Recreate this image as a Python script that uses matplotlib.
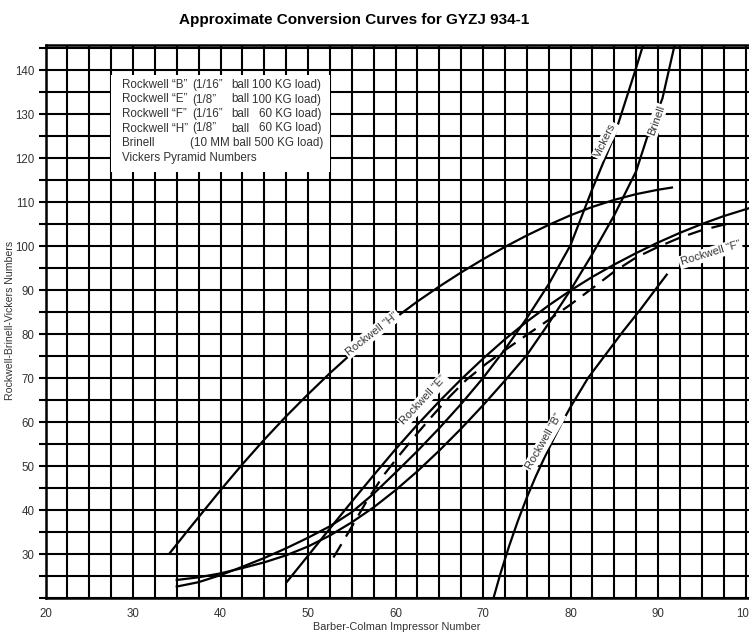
import matplotlib
matplotlib.use('Agg')
import matplotlib.pyplot as plt
from matplotlib.patches import Rectangle
from matplotlib.ticker import MultipleLocator, FixedLocator

plt.rcParams['font.family'] = ['Liberation Sans', 'DejaVu Sans']

# ---------------- data ----------------
title = "Approximate Conversion Curves for GYZJ 934-1"
x_label = "Barber-Colman Impressor Number"
y_label = "Rockwell-Brinell-Vickers Numbers"
x_ticks = [20, 30, 40, 50, 60, 70, 80, 90, 100]
y_ticks = [30, 40, 50, 60, 70, 80, 90, 100, 110, 120, 130, 140]

rh_x = [34.2, 36, 38, 40, 42.5, 45, 47.5, 50, 52.5, 55, 57.5, 60, 62.5, 65, 67.5,
        70, 72.5, 75, 77.5, 80, 82.5, 85, 87.5, 90, 91.6]
rh_y = [30.2, 34.7, 39.6, 44.5, 50.4, 56.0, 61.3, 66.3, 71.1, 75.6, 79.8, 83.7, 87.4,
        90.8, 94.0, 97.0, 99.8, 102.4, 104.8, 107.0, 108.9, 110.5, 111.8, 112.8, 113.3]

re_x = [47.6, 50, 52.5, 55, 57.5, 60, 62.5, 65, 67.5, 70, 72.5, 75, 77.5, 80, 82.5,
        85, 87.5, 90, 92.5, 95, 97.5, 100.4]
re_y = [23.7, 29.6, 35.8, 41.9, 47.9, 53.8, 59.4, 64.7, 69.7, 74.4, 78.8, 82.8, 86.5,
        89.9, 93.0, 95.8, 98.4, 100.8, 103.0, 105.0, 106.8, 108.6]

rf_x = [52.9, 54.8, 56.7, 58.6, 60.5, 62.4, 64.3, 66.2, 68.1, 70.4, 72.7, 75, 77.5,
        80, 82.5, 85, 87.5, 90, 92.5, 95, 98.2]
rf_y = [29.2, 35.5, 42.0, 47.8, 52.6, 57.2, 61.6, 65.8, 69.6, 73.3, 76.6, 79.8, 83.2,
        86.7, 90.4, 94.2, 97.4, 99.8, 101.9, 103.6, 105.2]

vk_x = [35, 37.5, 40, 42.5, 45, 47.5, 50, 52.5, 55, 57.5, 60, 62.5, 65, 67.5, 70,
        72.5, 75, 77.5, 80, 82.5, 85, 87.5, 88.3]
vk_y = [22.6, 23.6, 25.2, 27.1, 29.1, 31.3, 33.7, 36.3, 39.5, 43.7, 48.5, 53.4, 58.6,
        64.1, 70.0, 76.5, 83.6, 91.3, 100.2, 113.0, 125.0, 140.5, 145.7]

br_x = [35, 37.5, 40, 42.5, 45, 47.5, 50, 52.5, 55, 57.5, 60, 62.5, 65, 67.5, 70,
        72.5, 75, 77.5, 80, 82.5, 85, 87.5, 88.8, 90.5, 91.9]
br_y = [24.1, 24.7, 25.6, 26.8, 28.1, 29.7, 31.7, 34.2, 37.2, 40.6, 44.5, 48.8, 53.5,
        58.5, 63.8, 69.4, 75.2, 82.4, 90.0, 98.2, 107.0, 117.0, 125.0, 133.5, 145.7]

rb_x = [71.2, 72, 73, 74, 75, 76, 77, 78, 79, 80, 82, 84, 86, 88, 90, 91]
rb_y = [20.0, 25.6, 31.9, 37.6, 42.8, 47.5, 51.8, 55.9, 59.8, 63.4, 70.0, 75.3, 80.6,
        85.6, 90.9, 93.5]

legend_lines = [
    ("Rockwell \u201cB\u201d", "(1/16\u201d", "ball", "100 KG load)"),
    ("Rockwell \u201cE\u201d", "(1/8\u201d", "ball", "100 KG load)"),
    ("Rockwell \u201cF\u201d", "(1/16\u201d", "ball", "60 KG load)"),
    ("Rockwell \u201cH\u201d", "(1/8\u201d", "ball", "60 KG load)"),
]
legend_brinell = ("Brinell", "(10 MM ball 500 KG load)")
legend_vickers = "Vickers Pyramid Numbers"

# ---------------- figure ----------------
W, H = 749, 635
fig = plt.figure(figsize=(W / 100, H / 100), dpi=100)
ax = fig.add_axes([45.5 / W, (H - 598) / H, (W - 45.5) / W, (598 - 45) / H])
ax.set_xlim(20, 100.4)
ax.set_ylim(20, 145.7)

ax.xaxis.set_major_locator(FixedLocator(x_ticks))
ax.xaxis.set_minor_locator(MultipleLocator(2.5))
ax.yaxis.set_major_locator(FixedLocator(y_ticks))
ax.yaxis.set_minor_locator(MultipleLocator(5))
ax.grid(which='both', color='black', linewidth=1.5)
ax.set_axisbelow(True)

ax.tick_params(axis='x', which='both', length=0, pad=7, labelsize=8.3, labelcolor='#333333')
ax.tick_params(axis='y', which='both', length=5, width=1.5, direction='out', pad=3,
               labelsize=8.3, labelcolor='#333333')
for s in ['left', 'top', 'bottom']:
    ax.spines[s].set_linewidth(1.8)
ax.spines['right'].set_visible(False)

fig.text(397 / W, 1 - 627 / H, x_label, fontsize=7.8, color='#333333',
         ha='center', va='center')
fig.text(10 / W, 1 - 320 / H, y_label, rotation=90, fontsize=7.6, color='#333333',
         ha='center', va='center')
fig.text(354 / W, 1 - 20 / H, title, fontsize=11, fontweight='bold',
         ha='center', va='center')

lw = 1.6
ax.plot(rh_x, rh_y, color='black', lw=lw, zorder=2)
ax.plot(re_x, re_y, color='black', lw=lw, zorder=2)
ax.plot(rf_x, rf_y, color='black', lw=lw, zorder=2, linestyle=(0, (7, 4)))
ax.plot(vk_x, vk_y, color='black', lw=lw, zorder=2)
ax.plot(br_x, br_y, color='black', lw=lw, zorder=2)
ax.plot(rb_x, rb_y, color='black', lw=lw, zorder=2)

lab_kw = dict(fontsize=8.0, color='#333333', ha='center', va='center', zorder=4,
              rotation_mode='anchor',
              bbox=dict(boxstyle='square,pad=0.15', fc='white', ec='none'))
ax.text(57.3, 80.0, "Rockwell \u201cH\u201d", rotation=38, **lab_kw)
ax.text(63.2, 65.0, "Rockwell \u201cE\u201d", rotation=47, **lab_kw)
ax.text(84.0, 124.0, "Vickers", rotation=64, **lab_kw)
ax.text(89.8, 128.5, "Brinell", rotation=70, **lab_kw)
ax.text(96.0, 98.3, "Rockwell \u201cF\u201d", rotation=17, **lab_kw)
ax.text(77.0, 55.5, "Rockwell \u201cB\u201d", rotation=60, **lab_kw)

# legend box (white area over grid)
def fx(px):
    return px / W

def fy(py):
    return 1 - py / H

fig.patches.append(Rectangle((fx(111), fy(172)), (330 - 111) / W, (172 - 75) / H,
                             transform=fig.transFigure, fc='white', ec='none', zorder=3))
leg_kw = dict(fontsize=8.4, color='#333333', va='center', zorder=5)
rows_y = [85, 99.5, 114, 128.5, 143, 158]
for (name, size, ball, load), py in zip(legend_lines, rows_y):
    fig.text(fx(122), fy(py), name, ha='left', **leg_kw)
    fig.text(fx(192), fy(py), size, ha='left', **leg_kw)
    fig.text(fx(231), fy(py), ball, ha='left', **leg_kw)
    fig.text(fx(321), fy(py), load, ha='right', **leg_kw)
fig.text(fx(122), fy(rows_y[4]), legend_brinell[0], ha='left', **leg_kw)
fig.text(fx(323), fy(rows_y[4]), legend_brinell[1], ha='right', **leg_kw)
fig.text(fx(122), fy(rows_y[5]), legend_vickers, ha='left', **leg_kw)

fig.savefig('out.png', dpi=100)
